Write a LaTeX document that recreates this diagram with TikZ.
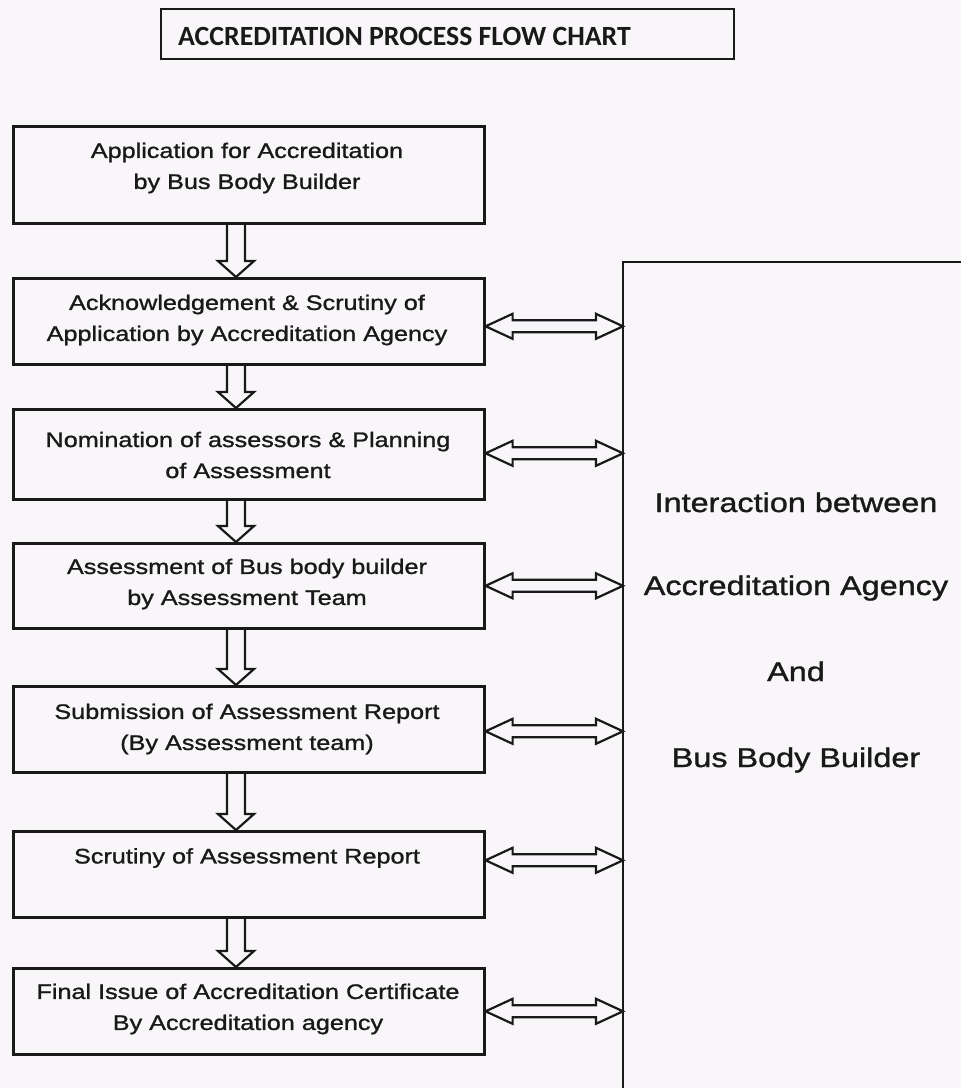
\documentclass[tikz,border=0pt]{standalone}
\usepackage{fontspec}
\setmainfont{Liberation Sans}
\newfontfamily\boxfont{Liberation Sans}[FakeStretch=1.2,FakeBold=1.2]
\newfontfamily\titlefont{Carlito}
\usetikzlibrary{calc}
\definecolor{paper}{RGB}{249,246,250}
\definecolor{ink}{RGB}{25,25,25}
\tikzset{
  stepbox/.style={draw=ink, line width=2.6pt, minimum width=471pt, inner sep=0pt, anchor=north west},
  steptext/.style={font=\boxfont\fontsize{21}{31}\selectfont, align=center, text=ink, inner sep=0pt},
  sidetext/.style={font=\boxfont\fontsize{27}{32}\selectfont, text=ink, inner sep=0pt, anchor=base},
  blk/.style={draw=ink, line width=2.2pt, line join=miter},
}
\newcommand{\vblockarrow}[2]{%
  \draw[blk] let \p1=($(#1.south west)+(224,0)$), \p2=($(#2.north west)+(224,0)$) in
    (\x1-9pt,\y1) -- (\x1-9pt,\y2+16pt) -- (\x1-18pt,\y2+16pt) -- (\x1,\y2)
    -- (\x1+18pt,\y2+16pt) -- (\x1+9pt,\y2+16pt) -- (\x1+9pt,\y1);}
\newcommand{\hblockarrow}[2]{%
  \draw[blk] let \p1=($(#1.east)+(0,#2)$), \p2=(rb.west) in
    (\x1,\y1) -- (\x1+27pt,\y1+12.5pt) -- (\x1+27pt,\y1+6pt) -- (\x2-27pt,\y1+6pt)
    -- (\x2-27pt,\y1+12.5pt) -- (\x2,\y1) -- (\x2-27pt,\y1-12.5pt) -- (\x2-27pt,\y1-6pt)
    -- (\x1+27pt,\y1-6pt) -- (\x1+27pt,\y1-12.5pt) -- cycle;}
\begin{document}
\begin{tikzpicture}[x=1pt,y=-1pt]
\useasboundingbox (0,0) rectangle (961,1088);
\fill[paper] (0,0) rectangle (961,1088);

% title
\node[draw=ink, line width=2.2pt, minimum width=573pt, minimum height=50pt, anchor=north west, inner sep=0pt] (title) at (160,8) {};
\node[font=\titlefont\bfseries\fontsize{27.8}{32}\selectfont, text=ink, anchor=base west, inner sep=0pt] (titletext) at (178,45) {ACCREDITATION PROCESS FLOW CHART};

% step boxes
\node[stepbox, minimum height=97pt] (b1) at (12,125) {};
\node[stepbox, minimum height=86pt] (b2) at (12,277) {};
\node[stepbox, minimum height=90pt] (b3) at (12,408) {};
\node[stepbox, minimum height=85pt] (b4) at (12,542) {};
\node[stepbox, minimum height=86pt] (b5) at (12,685) {};
\node[stepbox, minimum height=86pt] (b6) at (12,830) {};
\node[stepbox, minimum height=86pt] (b7) at (12,967) {};

\node[steptext] (t1) at (247,168) {Application for Accreditation\\by Bus Body Builder};
\node[steptext] (t2) at (247,320) {Acknowledgement \& Scrutiny of\\Application by Accreditation Agency};
\node[steptext] (t3) at (248,455) {Nomination of assessors \& Planning\\of Assessment};
\node[steptext] (t4) at (247,584) {Assessment of Bus body builder\\by Assessment Team};
\node[steptext] (t5) at (247,729) {Submission of Assessment Report\\(By Assessment team)};
\node[steptext] (t6) at (247,858) {Scrutiny of Assessment Report};
\node[steptext] (t7) at (248,1009) {Final Issue of Accreditation Certificate\\By Accreditation agency};

% right panel
\node[minimum width=338pt, minimum height=826pt, anchor=north west, inner sep=0pt] (rb) at (623,262) {};
\draw[ink, line width=2.2pt] (rb.south west) -- (rb.north west) -- (rb.north east);
\node[sidetext] (r1) at (796,512) {Interaction between};
\node[sidetext] (r2) at (796,595) {Accreditation Agency};
\node[sidetext] (r3) at (796,681) {And};
\node[sidetext] (r4) at (796,767) {Bus Body Builder};

% vertical block arrows
\vblockarrow{b1}{b2}
\vblockarrow{b2}{b3}
\vblockarrow{b3}{b4}
\vblockarrow{b4}{b5}
\vblockarrow{b5}{b6}
\vblockarrow{b6}{b7}

% double block arrows
\hblockarrow{b2}{5}
\hblockarrow{b3}{-1}
\hblockarrow{b4}{0}
\hblockarrow{b5}{2}
\hblockarrow{b6}{-14}
\hblockarrow{b7}{0}
\end{tikzpicture}
\end{document}
